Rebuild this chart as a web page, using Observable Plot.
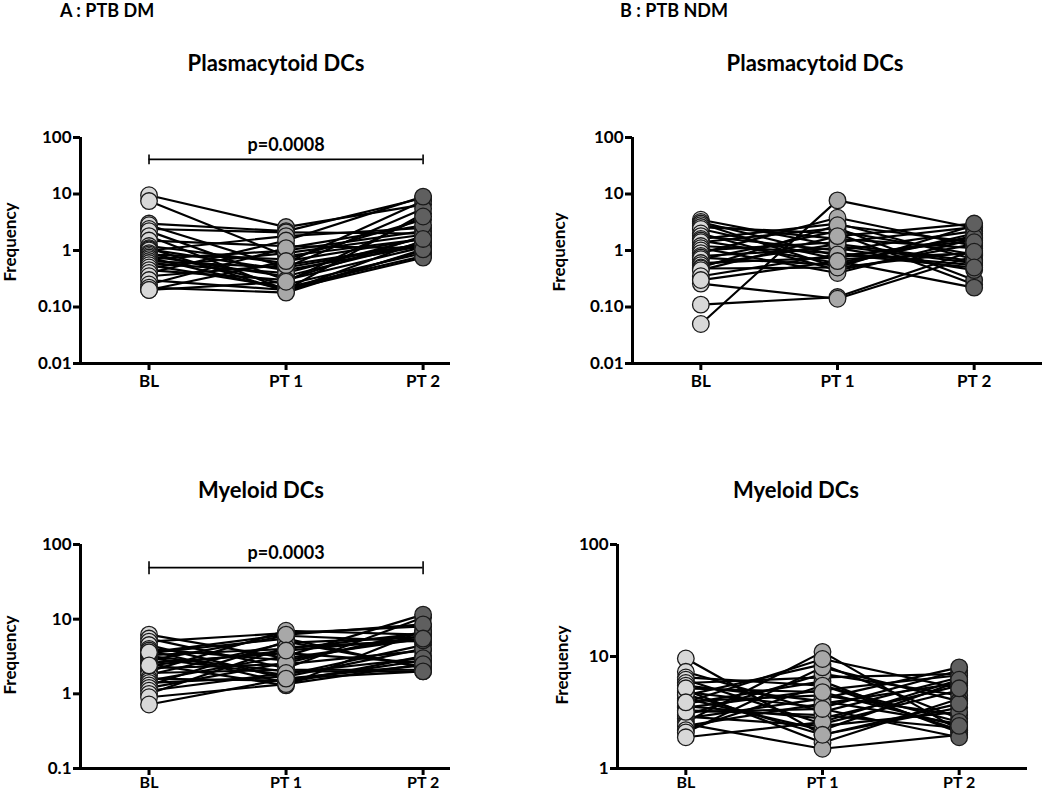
<!DOCTYPE html>
<html><head><meta charset="utf-8">
<script src="https://cdn.jsdelivr.net/npm/d3@7"></script>
<script src="https://cdn.jsdelivr.net/npm/@observablehq/plot@0.6"></script>
<style>
body{margin:0;background:#fff;overflow:hidden}
#root{position:relative;width:1050px;height:793px;font-family:Lato,"Open Sans",sans-serif;font-weight:bold;color:#000;overflow:hidden}
.t{position:absolute;white-space:nowrap;line-height:1}
.c{transform:translate(-50%,-50%)}
.panel{position:absolute}
.ylab{position:absolute;transform:translate(-50%,-50%) rotate(-90deg);white-space:nowrap;line-height:1}
</style></head><body><div id="root"></div>
<script>
const categories = ["BL", "PT 1", "PT 2"];
const groupLabels = ["A : PTB DM", "B : PTB NDM"];
const panelTitles = ["Plasmacytoid DCs", "Plasmacytoid DCs", "Myeloid DCs", "Myeloid DCs"];
const yTitle = "Frequency";
const timeFills = ["#d8d8d8", "#a8a8a8", "#5f5f5f"];

// A: PTB DM, plasmacytoid DCs (paired per subject)
const dmPdcBL  = [9.5,7.5,3.0,2.8,2.4,2.2,1.8,1.5,1.2,1.1,1.05,1.0,0.9,0.85,0.8,0.75,0.7,0.65,0.6,0.55,0.5,0.45,0.4,0.35,0.3,0.25,0.22,0.2,0.2];
const dmPdcPT1 = [2.6,0.8,2.2,0.5,2.1,0.3,0.2,1.2,0.6,0.19,0.45,1.8,0.25,0.7,0.35,0.2,1.0,0.5,0.4,0.22,0.9,0.3,1.5,0.55,0.2,1.1,0.18,0.65,0.28];
const dmPdcPT2 = [6.5,1.6,8.5,1.3,2.0,1.8,4.5,1.1,7.5,1.5,1.2,2.5,0.9,3.5,1.4,1.0,2.2,5.5,1.7,0.8,1.9,1.15,9.0,1.3,0.75,2.8,1.05,1.6,4.0];

// B: PTB NDM, plasmacytoid DCs
const ndmPdcBL  = [0.05,0.11,0.26,3.5,3.2,3.0,2.8,2.6,2.4,2.0,1.8,1.6,1.5,1.4,1.2,1.1,1.0,0.9,0.8,0.75,0.7,0.6,0.55,0.5,0.48,0.45,0.35,0.3];
const ndmPdcPT1 = [7.7,0.15,0.14,1.2,0.8,0.5,1.6,2.0,0.7,0.45,1.0,3.0,0.6,2.5,0.9,0.4,1.4,3.8,1.1,0.55,2.2,0.75,1.3,2.8,0.5,1.8,0.85,0.65];
const ndmPdcPT2 = [2.5,1.0,0.8,0.6,1.5,2.8,1.1,0.25,0.9,1.3,2.2,0.7,1.8,0.3,0.55,1.6,2.6,1.2,0.45,2.0,0.85,1.7,0.65,1.4,0.95,3.0,0.5,0.22];

// A: PTB DM, myeloid DCs
const dmMdcBL  = [6.2,5.5,5.0,4.5,4.0,3.8,3.5,3.3,3.2,3.0,2.8,2.6,2.5,2.2,2.0,1.9,1.8,1.6,1.5,1.4,1.3,1.2,1.1,1.0,0.9,0.72,3.6,2.4];
const dmMdcPT1 = [3.0,2.2,6.5,1.6,2.8,1.4,5.5,4.0,2.0,1.8,6.0,3.5,1.3,2.5,7.0,2.1,4.8,1.5,3.2,1.7,5.0,2.6,1.9,4.2,1.35,1.6,6.2,3.8];
const dmMdcPT2 = [5.5,10.5,8.0,2.4,6.0,3.2,2.2,6.5,2.0,4.5,5.0,2.6,7.0,3.8,6.2,2.1,5.8,2.8,11.5,4.0,2.3,6.8,3.0,5.2,2.5,2.0,8.5,5.5];

// B: PTB NDM, myeloid DCs
const ndmMdcBL  = [9.6,7.3,6.5,6.2,5.8,5.5,5.0,4.8,4.5,4.2,4.0,3.8,3.6,3.5,3.3,3.0,2.9,2.8,2.6,2.5,2.4,2.2,2.1,1.9,3.2,4.6,5.2,3.9];
const ndmMdcPT1 = [2.0,3.2,5.5,2.5,6.5,4.0,1.7,3.5,8.5,2.2,4.5,6.0,2.8,5.0,3.0,7.0,2.4,4.2,11.0,1.5,3.8,5.5,8.0,2.6,3.4,2.0,4.8,9.5];
const ndmMdcPT2 = [3.5,6.5,2.2,5.0,7.0,2.5,4.2,7.5,2.8,6.0,3.0,2.1,5.5,6.8,2.3,4.5,3.2,8.0,2.2,2.0,5.8,2.6,4.0,6.2,1.9,3.8,2.4,5.2];

const pdcTicks = [100, 10, 1, 0.1, 0.01];
const pdcTickLabels = ["100", "10", "1", "0.10", "0.01"];
const dmMdcTicks = [100, 10, 1, 0.1];
const dmMdcTickLabels = ["100", "10", "1", "0.1"];
const ndmMdcTicks = [100, 10, 1];
const ndmMdcTickLabels = ["100", "10", "1"];

const pLabels = ["p=0.0008", "p=0.0003"];
const pBracketY = [41, 49];

function rows(a, b, c) {
  const out = [];
  [a, b, c].forEach((arr, t) => arr.forEach((v, i) => out.push({id: i, t, v})));
  return out;
}

const panels = [
  {left: 0, top: 110, width: 460, height: 293, mL: 80, mR: 10, mT: 27, mB: 40, xPad: 4, xFont: 17,
   data: rows(dmPdcBL, dmPdcPT1, dmPdcPT2), yDomain: [0.01, 100], ticks: pdcTicks, labels: pdcTickLabels,
   xDomain: [-0.5, 2.2], p: {label: pLabels[0], y: pBracketY[0]}},
  {left: 520, top: 110, width: 528, height: 293, mL: 112, mR: 6, mT: 27, mB: 40, xPad: 4, xFont: 17,
   data: rows(ndmPdcBL, ndmPdcPT1, ndmPdcPT2), yDomain: [0.01, 100], ticks: pdcTicks, labels: pdcTickLabels,
   xDomain: [-0.5, 2.5]},
  {left: 0, top: 510, width: 460, height: 283, mL: 80, mR: 10, mT: 34, mB: 25, xPad: 1, xFont: 16,
   data: rows(dmMdcBL, dmMdcPT1, dmMdcPT2), yDomain: [0.1, 100], ticks: dmMdcTicks, labels: dmMdcTickLabels,
   xDomain: [-0.5, 2.2], p: {label: pLabels[1], y: pBracketY[1]}},
  {left: 520, top: 510, width: 517, height: 283, mL: 97, mR: 10, mT: 34, mB: 25, xPad: 1, xFont: 16,
   data: rows(ndmMdcBL, ndmMdcPT1, ndmMdcPT2), yDomain: [1, 100], ticks: ndmMdcTicks, labels: ndmMdcTickLabels,
   xDomain: [-0.5, 2.5]}
];

const root = document.getElementById("root");

panels.forEach(P => {
  const marks = [
    Plot.line(P.data, {x: "t", y: "v", z: "id", stroke: "#000", strokeWidth: 2.2}),
    ...[0, 1, 2].map(t => Plot.dot(P.data.filter(d => d.t === t),
      {x: "t", y: "v", r: 8.3, fill: timeFills[t], stroke: "#1a1a1a", strokeWidth: 1.3})),
    Plot.ruleX([P.xDomain[0]], {stroke: "#000", strokeWidth: 3}),
    Plot.ruleY([P.yDomain[0]], {stroke: "#000", strokeWidth: 3}),
    Plot.axisY({ticks: P.ticks, tickFormat: d => P.labels[P.ticks.indexOf(d)], tickSize: 7,
      tickPadding: 2, strokeWidth: 3, label: null, fontSize: 17, fontWeight: "bold"}),
    Plot.axisX({ticks: [0, 1, 2], tickFormat: i => categories[i], tickSize: 7, tickPadding: P.xPad,
      strokeWidth: 3, label: null, fontSize: P.xFont, fontWeight: "bold"})
  ];
  if (P.p) {
    const br = [{x1: 0, x2: 2, y: P.p.y, label: P.p.label}];
    marks.push(
      Plot.ruleY(br, {x1: "x1", x2: "x2", y: "y", stroke: "#000", strokeWidth: 1.6}),
      Plot.ruleX([0, 2], {x: d => d, y1: P.p.y / 1.25, y2: P.p.y * 1.2, stroke: "#000", strokeWidth: 1.6}),
      Plot.text(br, {x: d => (d.x1 + d.x2) / 2, y: "y", text: "label", dy: -14, fontSize: 18, fontWeight: "bold", fill: "#000"})
    );
  }
  const svg = Plot.plot({
    width: P.width, height: P.height,
    marginLeft: P.mL, marginRight: P.mR, marginTop: P.mT, marginBottom: P.mB,
    x: {type: "linear", domain: P.xDomain},
    y: {type: "log", domain: P.yDomain},
    style: {fontFamily: "Lato, 'Open Sans', sans-serif", fontWeight: "bold", color: "#000", background: "transparent", overflow: "visible"},
    marks
  });
  svg.classList.add("panel");
  svg.style.left = P.left + "px";
  svg.style.top = P.top + "px";
  root.appendChild(svg);
});

function addText(txt, x, y, size, cls) {
  const d = document.createElement("div");
  d.className = cls;
  d.textContent = txt;
  d.style.left = x + "px";
  d.style.top = y + "px";
  d.style.fontSize = size + "px";
  root.appendChild(d);
}
addText(groupLabels[0], 60, 1, 18, "t");
addText(groupLabels[1], 620, 1, 18, "t");
addText(panelTitles[0], 276, 63, 22, "t c");
addText(panelTitles[1], 815, 63, 22, "t c");
addText(panelTitles[2], 261, 490, 22, "t c");
addText(panelTitles[3], 796, 490, 22, "t c");
addText(yTitle, 9, 242, 17, "ylab");
addText(yTitle, 558, 252, 17, "ylab");
addText(yTitle, 9, 655, 17, "ylab");
addText(yTitle, 561, 665, 17, "ylab");
</script>
</body></html>
